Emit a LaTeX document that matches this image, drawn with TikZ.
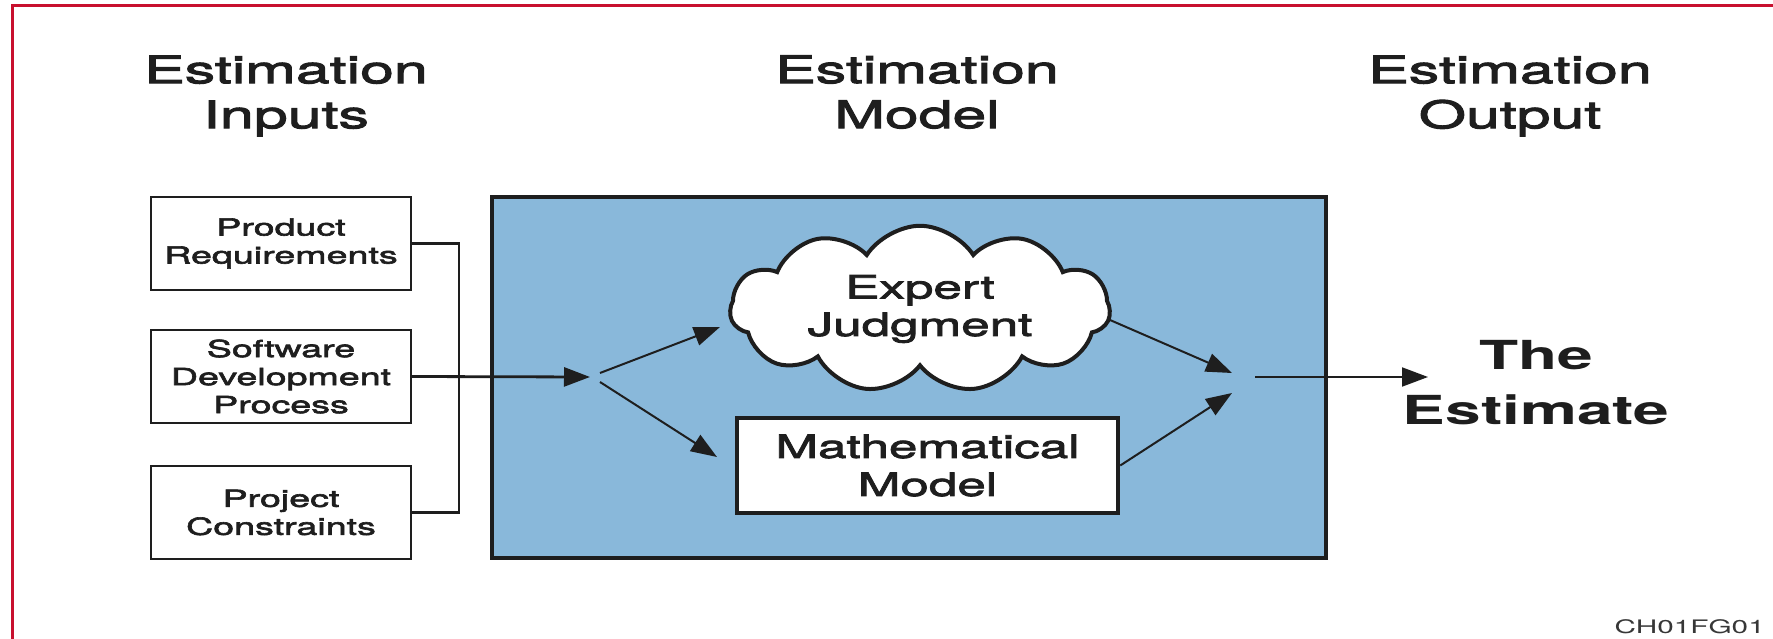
\documentclass[tikz,border=0pt]{standalone}
\usepackage{fontspec}
\setmainfont{TeX Gyre Heros}[FakeStretch=1.6]
\newfontfamily\medfont{TeX Gyre Heros}[FakeStretch=1.6, FakeBold=2.6]
\usetikzlibrary{arrows.meta,shapes.symbols}
\definecolor{frameRed}{RGB}{200,16,46}
\definecolor{modelBlue}{RGB}{137,184,218}
\definecolor{ink}{RGB}{30,30,30}
\definecolor{tagGray}{RGB}{55,55,55}
\begin{document}
\begin{tikzpicture}[x=1pt,y=-1pt,
  hdr/.style={font=\medfont\fontsize{38}{45}\selectfont, align=center, text=ink, inner sep=0pt},
  inbox/.style={draw=ink, line width=2pt, minimum width=260pt, minimum height=93pt,
    font=\medfont\fontsize{23.5}{28}\selectfont, align=center, text=ink, inner sep=0pt},
  modelbox/.style={draw=ink, fill=modelBlue, line width=3.5pt, minimum width=834pt, minimum height=361pt, inner sep=0pt},
  expert/.style={cloud, cloud puffs=11, cloud puff arc=115, aspect=2.6, draw=ink, fill=white,
    line width=4pt, minimum width=380pt, minimum height=148pt, inner sep=0pt,
    font=\medfont\fontsize{32}{37.5}\selectfont, align=center, text=ink},
  mathbox/.style={draw=ink, fill=white, line width=4.5pt, minimum width=381pt, minimum height=95pt,
    inner sep=0pt, font=\medfont\fontsize{32}{38}\selectfont, align=center, text=ink},
  result/.style={font=\fontsize{40}{55}\selectfont\bfseries, align=center, text=ink, inner sep=0pt},
  tag/.style={font=\fontsize{18.6}{22}\selectfont, text=tagGray, inner sep=0pt},
  conn/.style={draw=ink, line width=2pt},
  thick conn/.style={draw=ink, line width=2.8pt},
  tip/.style={-{Triangle[length=26pt,width=19pt]}}
]
\useasboundingbox (0,0) rectangle (1773,639);
\fill[white] (0,0) rectangle (1773,639);
\draw[frameRed, line width=3pt] (12,639) -- (12,6) -- (1773,6);

% headers
\node[hdr] (hin)  at (286,96) {Estimation\\Inputs};
\node[hdr] (hmod) at (917,92) {Estimation\\Model};
\node[hdr] (hout) at (1510,96) {Estimation\\Output};

% model container
\node[modelbox] (model) at (909,377.5) {};

% inputs
\node[inbox] (pr) at (281,243.5) {Product\\Requirements};
\node[inbox] (sd) at (281,376.5) {Software\\Development\\Process};
\node[inbox] (pc) at (281,512.5) {Project\\Constraints};

% bracket joining inputs
\draw[thick conn] (pr.east) -- ++(47,0) |- (pc.east);

% inner elements
\node[expert] (ej) at (920,309) {Expert\\Judgment};
\node[mathbox] (mm) at (927.5,465.5) {Mathematical\\Model};

% coordinates
\coordinate (split) at (590,377);
\coordinate (b1) at (600,373);
\coordinate (b2) at (600,382);
\coordinate (t1) at (720,327);
\coordinate (t2) at (717,457);
\coordinate (c1) at (1110,320);
\coordinate (j1) at (1232,373);
\coordinate (j2) at (1232,393);
\coordinate (o1) at (1255,377);
\coordinate (o2) at (1428,377);

\draw[thick conn, tip] (sd.east) -- (split);
\draw[conn, tip] (b1) -- (t1);
\draw[conn, tip] (b2) -- (t2);
\draw[conn, tip] (c1) -- (j1);
\draw[conn, tip] (mm.east) -- (j2);
\draw[conn, tip] (o1) -- (o2);

% result
\node[result] (est) at (1536,382.5) {The\\Estimate};

% figure tag
\node[tag, anchor=base east] (fig) at (1765,633) {CH01FG01};
\end{tikzpicture}
\end{document}
